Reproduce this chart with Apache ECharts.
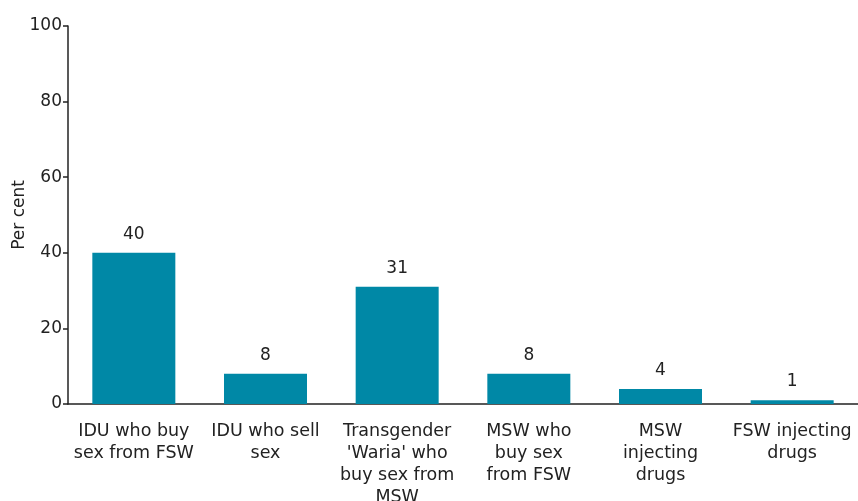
<!DOCTYPE html>
<html><head><meta charset="utf-8">
<script src="https://cdn.jsdelivr.net/npm/echarts@6/dist/echarts.min.js"></script>
<style>html,body{margin:0;padding:0;background:#fff}#c{width:858px;height:501px}</style>
</head><body><div id="c"></div>
<script>
const categories = [
  "IDU who buy\nsex from FSW",
  "IDU who sell\nsex",
  "Transgender\n'Waria' who\nbuy sex from\nMSW",
  "MSW who\nbuy sex\nfrom FSW",
  "MSW\ninjecting\ndrugs",
  "FSW injecting\ndrugs"
];
const values = [40, 8, 31, 8, 4, 1];
const yTicks = [0, 20, 40, 60, 80, 100];
const yTitle = "Per cent";

const font = "DejaVu Sans";
const chart = echarts.init(document.getElementById('c'), null, {renderer: 'canvas'});
chart.setOption({
  animation: false,
  grid: {left: 68, right: 0, top: 26, bottom: 97, containLabel: false, outerBoundsMode: 'none'},
  xAxis: {
    type: 'category', data: categories,
    axisLine: {lineStyle: {color: '#222', width: 1.5}},
    axisTick: {alignWithLabel: false, length: 6, lineStyle: {color: '#222', width: 1.5}},
    axisLabel: {color: '#222', fontFamily: font, fontSize: 17.5, lineHeight: 22, margin: 16, interval: 0}
  },
  yAxis: {
    type: 'value', min: yTicks[0], max: yTicks[yTicks.length - 1], interval: 20,
    name: yTitle, nameLocation: 'middle', nameGap: 40, nameMoveOverlap: false,
    nameTextStyle: {color: '#222', fontFamily: font, fontSize: 17},
    splitLine: {show: false},
    axisLine: {show: true, lineStyle: {color: '#222', width: 1.5}},
    axisTick: {show: true, length: 5, lineStyle: {color: '#222', width: 1.5}},
    axisLabel: {color: '#222', fontFamily: font, fontSize: 17, margin: 6}
  },
  series: [{
    type: 'bar', data: values, barWidth: 83,
    itemStyle: {color: '#0088a6'},
    label: {show: true, position: 'top', distance: 10, color: '#222', fontFamily: font, fontSize: 17}
  }]
});
</script></body></html>
